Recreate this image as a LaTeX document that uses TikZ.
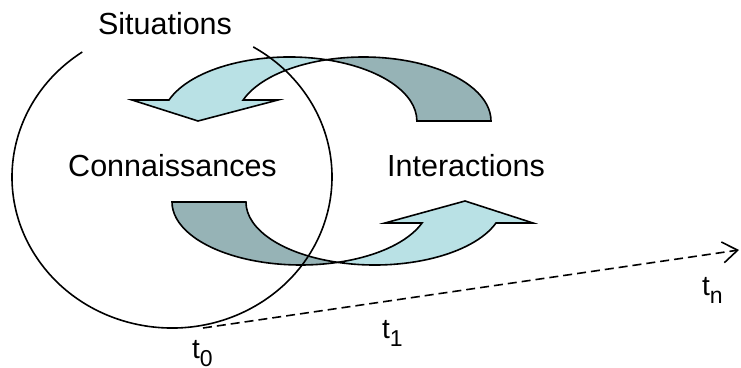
\documentclass[tikz,border=0pt]{standalone}
\usepackage{fontspec}
\setmainfont{Liberation Sans}
\usetikzlibrary{arrows.meta}
\definecolor{PaleCyan}{RGB}{185, 225, 229}
\definecolor{GreyTeal}{RGB}{150, 179, 182}
\newcommand{\tmark}[1]{t\raisebox{-8pt}{\fontsize{23}{25}\selectfont #1}}

\begin{document}
\begin{tikzpicture}[x=1pt, y=1pt,
    front/.style={fill=PaleCyan, draw=black, line width=1.6pt},
    back/.style={fill=GreyTeal, draw=black, line width=1.6pt},
    word/.style={anchor=base, inner sep=0pt, font=\fontsize{30.5}{36}\selectfont},
    tlabel/.style={anchor=base west, inner sep=0pt, font=\fontsize{28}{32}\selectfont},
    timeline/.style={line width=1.6pt, dash pattern=on 9pt off 5pt, -{Straight Barb[length=15pt, width=21pt, line width=1.6pt]}}
]
\useasboundingbox (0,0) rectangle (741,367);

% upper curved arrow
\draw[back] (417,246) -- (491,246)
    arc[start angle=0, end angle=106.9, x radius=127.5, y radius=64]
    arc[start angle=73.1, end angle=0, x radius=127.5, y radius=64] -- cycle;
\draw[front] (169,267)
    arc[start angle=160.85, end angle=73.1, x radius=127.5, y radius=64]
    arc[start angle=106.9, end angle=160.85, x radius=127.5, y radius=64]
    -- (278,267) -- (198,246) -- (132,267) -- cycle;

% lower curved arrow
\draw[back] (172,165)
    arc[start angle=180, end angle=286.7, x radius=128.7, y radius=63]
    arc[start angle=253.3, end angle=180, x radius=128.7, y radius=63] -- cycle;
\draw[front] (422,144) -- (385,144) -- (465,166) -- (533,144) -- (496,144)
    arc[start angle=340.53, end angle=253.3, x radius=128.7, y radius=63]
    arc[start angle=286.7, end angle=340.53, x radius=128.7, y radius=63] -- cycle;

% open circle
\draw[line width=1.6pt] (82.3,315)
    arc[start angle=124.1, end angle=419.5, x radius=160, y radius=151];

% time axis
\coordinate (tstart) at (203,39);
\coordinate (tend) at (739,117);
\draw[timeline] (tstart) -- (tend);

\node[word] (sit) at (165,332) {Situations};
\node[word] (know) at (172.5,190) {Connaissances};
\node[word] (inter) at (466,190) {Interactions};
\node[tlabel] (t0) at (192,9) {\tmark{0}};
\node[tlabel] (t1) at (382,29) {\tmark{1}};
\node[tlabel] (tn) at (702,72) {\tmark{n}};
\end{tikzpicture}
\end{document}
